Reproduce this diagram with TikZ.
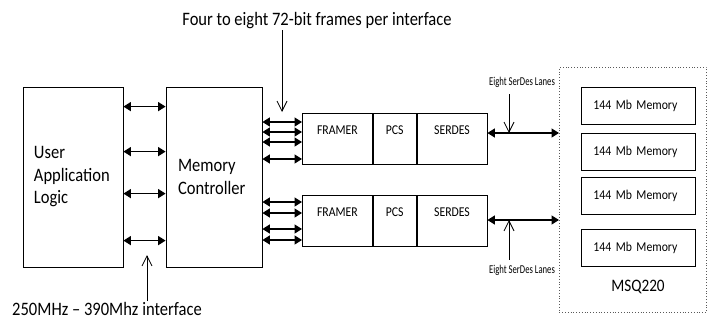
\documentclass[tikz,border=0pt]{standalone}
\usepackage{fontspec}
\setmainfont{Carlito}[FakeStretch=0.87]
\newfontfamily\narrowfont{Carlito}[FakeStretch=0.72]
\usetikzlibrary{arrows.meta}

\begin{document}
\begin{tikzpicture}[x=1pt, y=-1pt,
  blk/.style={draw, line width=0.8pt, inner sep=0pt},
  bigtxt/.style={font=\fontsize{19}{22.5}\selectfont},
  midtxt/.style={font=\fontsize{13.5}{16}\selectfont},
  smalltxt/.style={font=\narrowfont\fontsize{12}{14}\selectfont},
  stage/.style={blk, midtxt, minimum height=51pt, text height=21pt, text depth=30pt, anchor=north west},
  membox/.style={blk, midtxt, minimum width=114pt, minimum height=37pt, inner xsep=12pt, text width=90pt, align=left, anchor=north west},
  biarrow/.style={line width=1.4pt, {Triangle[length=7.5pt,width=9pt]}-{Triangle[length=7.5pt,width=9pt]}},
  pointer/.style={line width=0.8pt, -{Straight Barb[length=10pt,width=10pt]}}]
  \useasboundingbox (0,0) rectangle (707,322);

  % host side
  \node[blk, bigtxt, minimum width=100pt, minimum height=180pt, text width=78pt, align=left]
    (ua) at (73,177) {User\\Application\\Logic};
  \node[blk, bigtxt, minimum width=96pt, minimum height=180pt, text width=72pt, align=left]
    (mc) at (214,177) {Memory\\Controller};
  \foreach \d in {20,65,107,154}
    \draw[biarrow] ([yshift=-\d pt]ua.north east) -- ([yshift=-\d pt]mc.north west);

  % two framer paths
  \node[stage, minimum width=70pt] (framerA) at (302,113) {FRAMER};
  \node[stage, minimum width=43pt] (pcsA) at (framerA.north east) {PCS};
  \node[stage, minimum width=70pt] (serdesA) at (pcsA.north east) {SERDES};
  \node[stage, minimum width=70pt] (framerB) at (302,195) {FRAMER};
  \node[stage, minimum width=43pt] (pcsB) at (framerB.north east) {PCS};
  \node[stage, minimum width=70pt] (serdesB) at (pcsB.north east) {SERDES};

  \foreach \d in {9,19,29,46}{
    \coordinate (p) at ([yshift=-\d pt]framerA.north west);
    \draw[biarrow] (p -| mc.east) -- (p);
  }
  \foreach \d in {7,18,34,45}{
    \coordinate (p) at ([yshift=-\d pt]framerB.north west);
    \draw[biarrow] (p -| mc.east) -- (p);
  }

  % memory device
  \node[draw, dotted, gray!70!black, line width=0.8pt, inner sep=0pt, minimum width=147pt,
        minimum height=245pt, anchor=north west] (msq) at (559,67) {};
  \node[membox] (memA) at (581,87) {144 Mb Memory};
  \node[membox] (memB) at (581,133) {144 Mb Memory};
  \node[membox] (memC) at (581,177) {144 Mb Memory};
  \node[membox] (memD) at (581,229) {144 Mb Memory};
  \node[font=\fontsize{17.5}{20}\selectfont] (msqlbl) at (638,287) {MSQ220};

  \coordinate (lnA) at ([yshift=-20pt]serdesA.north east);
  \coordinate (lnB) at ([yshift=-25pt]serdesB.north east);
  \draw[biarrow] (lnA) -- (lnA -| msq.west);
  \draw[biarrow] (lnB) -- (lnB -| msq.west);

  % annotations
  \node[bigtxt, inner sep=1pt] (frames) at (317,21) {Four to eight 72-bit frames per interface};
  \coordinate (frtip) at (282,112);
  \draw[pointer] (frames.south -| frtip) -- (frtip);

  \node[bigtxt, inner sep=1pt] (ifc) at (107,309) {250MHz -- 390Mhz interface};
  \coordinate (iftip) at (147,255);
  \draw[pointer] (ifc.north -| iftip) -- (iftip);

  \node[smalltxt, inner sep=1pt] (lanesA) at (522,82) {Eight SerDes Lanes};
  \node[smalltxt, inner sep=1pt] (lanesB) at (522,270) {Eight SerDes Lanes};
  \coordinate (tipA) at (509,133);
  \coordinate (tipB) at (509,220);
  \draw[pointer, shorten <=6pt] (lanesA.south -| tipA) -- (tipA);
  \draw[pointer, shorten <=4pt] (lanesB.north -| tipB) -- (tipB);
\end{tikzpicture}
\end{document}
